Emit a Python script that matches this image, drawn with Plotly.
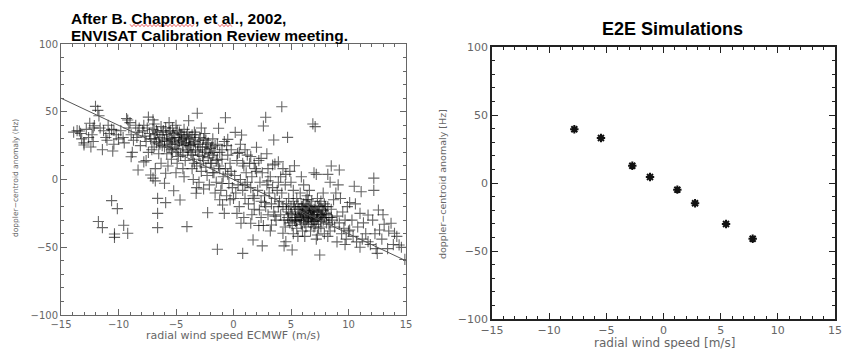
import plotly.graph_objects as go

# ---------------- data ----------------
# Left panel: (radial wind speed ECMWF [m/s], doppler-centroid anomaly [Hz])
chapron_points = [
    (-13.9,35),(-13.6,36),(-13.3,34),(-13.0,27),(-12.8,37),(-12.6,31),(-12.4,24),(-12.2,38),(-12.0,54),(-11.8,51),
    (-11.7,47),(-12.3,33),(-13.2,30),(-13.4,35.8),(-12.5,41.5),(-13.0,25.5),(-12.1,39.7),(-12.2,28),
    (-11.6,38),(-11.3,36),(-11.0,29),(-10.8,34),(-10.6,37),(-10.4,26),(-10.2,33),(-11.4,22),(-10.0,30),
    (-11.75,-31),(-11.4,-35.5),(-10.6,-15.6),(-10.1,-21.5),(-10.35,-40.2),(-10.35,-42.7),(-11.1,31),(-10.9,40),
    (-10.5,21),(-10.4,36.5),
    (-9.8,36),(-9.6,31),(-9.5,27),(-9.3,45),(-9.1,38),(-8.9,33),(-8.7,29),(-8.5,40),(-8.3,35),(-8.1,25),
    (-9.55,-33.8),(-9.2,-39.7),(-8.8,20),(-9.0,42),(-8.4,31),(-8.2,38),(-9.2,43.9),(-8.9,16.8),(-8.3,7),
    (-7.9,36),(-7.8,40),(-7.7,32),(-7.6,28),(-7.5,38),(-7.4,46),(-7.3,34),(-7.2,30),(-7.1,22),(-7.0,37),
    (-6.9,41),(-6.8,33),(-6.7,27),(-6.6,35),(-6.5,19),(-6.4,31),(-6.3,39),(-6.2,25),(-6.1,36),(-6.0,29),
    (-7.6,14),(-6.8,8),(-6.6,-13.9),(-6.6,-25),(-6.6,-35.5),(-6.0,-2.8),(-7.0,44),(-6.3,12),(-7.4,20),(-6.9,24),
    (-7.2,3.3),(-7.0,1),(-5.9,4.6),(-7.8,13),(-6.8,-1),
    (-5.9,-17.1),(-5.2,-8.3),(-5.9,38),(-5.8,33),(-5.7,28),(-5.6,24),(-5.5,36),(-5.4,30),(-5.3,20),(-5.2,34),
    (-5.1,27),(-5.0,40),(-4.9,22),(-4.8,31),(-4.7,35),(-4.6,18),(-4.5,29),(-4.4,25),(-4.3,37),(-4.2,14),
    (-4.1,32),(-4.0,21),(-5.7,10),(-5.4,15),(-5.0,5),(-4.65,-15.1),(-4.05,-34.8),(-4.4,8),(-5.6,42),(-4.8,26),
    (-5.3,29),(-4.5,33),(-4.2,27),(-5.8,19),(-4.9,12),(-4.3,2),
    (-3.9,43.4),(-3.15,48.9),(-3.9,30),(-3.8,25),(-3.7,20),(-3.6,33),(-3.5,15),(-3.4,28),(-3.3,22),(-3.25,-10.2),
    (-3.2,10),(-3.1,26),(-3.0,18),(-2.9,31),(-2.8,6),(-2.7,24),(-2.6,14),(-2.5,20),(-2.4,29),(-2.3,3),
    (-2.25,-24.5),(-2.2,16),(-2.1,-4),(-2.0,23),(-3.6,8),(-3.0,-2),(-2.6,-7),(-3.4,35),(-2.9,12),(-2.4,9),
    (-3.7,27),(-2.2,27),(-3.2,-6),(-2.8,38),(-3.5,0),
    (-1.9,12),(-1.8,18),(-1.7,5),(-1.6,25),(-1.5,-2),(-1.4,-51.5),(-1.3,37.8),(-1.3,10),(-1.2,20),(-1.1,-8),
    (-1.0,15),(-0.95,-18.8),(-0.9,2),(-0.8,-25),(-0.8,28),(-0.7,45.6),(-0.7,8),(-0.6,-12),(-0.5,18),(-0.4,-3),
    (-0.3,12),(-0.2,22),(-0.1,-6),(-1.6,-10),(-1.2,-15),(-0.5,4),(-1.8,30),(-1.0,-3),(-0.3,-15),(-0.6,25),
    (-1.4,15),(-0.2,6),(-0.5,29.6),
    (0.1,3),(0.2,-10),(0.3,14),(0.4,-4),(0.5,-20),(0.5,20),(0.6,0),(0.65,-32.3),(0.7,32.8),(0.8,-54.5),
    (0.8,-8),(0.9,10),(1.0,-14),(1.1,5),(1.2,-2),(1.3,-18),(1.4,12),(1.5,-32.3),(1.5,-6),(1.6,2),
    (1.7,-44.6),(1.7,-12),(1.8,-13.9),(1.9,8),(2.0,23.8),(0.3,-25),(1.2,18),(0.9,-28),(1.8,-22),(0.0,-14),
    (1.0,-4),(1.6,-26),(0.15,34.8),(0.35,19.3),(1.0,22),(1.5,17),(1.8,12),(0.6,26),(2.0,6),(0.8,12),
    (2.1,-8),(2.2,-34),(2.25,-22.5),(2.3,-2),(2.4,-16),(2.5,-49),(2.5,5),(2.6,-34),(2.6,39.5),(2.7,-12),
    (2.8,45.9),(2.8,-20),(2.9,-4),(3.0,-26),(3.1,-10),(3.2,2),(3.3,-33.6),(3.3,-18),(3.4,-6),(3.5,29.2),
    (3.5,-24),(3.6,11.4),(3.6,-14),(3.7,-30),(3.8,-8),(3.9,-20),(2.4,-28),(3.0,8),(3.2,-38),(3.9,-2),
    (2.7,-17),(3.6,-27),(2.2,14),(2.4,15.6),(3.4,10.7),(2.9,19),(3.9,13),(3.0,-1),
    (4.0,-16),(4.1,-26),(4.2,53.7),(4.2,-10),(4.3,-39.7),(4.3,-20),(4.4,-49),(4.4,-30),(4.5,-4),(4.55,-45.9),
    (4.6,-22),(4.7,31.1),(4.7,-28),(4.8,-14),(4.9,-32),(5.0,-20),(5.1,-52),(5.1,-26),(5.2,-8),(5.3,10.2),
    (5.3,-30),(5.4,-22),(5.5,-36),(5.6,-18),(5.7,-28),(5.8,-24),(5.9,-33),(5.5,-14),(5.2,-40),(4.5,-35),
    (5.0,-2),(5.8,-10),(5.6,-42),(4.8,-24),(5.4,-28),(5.9,-20),(4.1,2),(4.55,3.8),(4.3,8),(4.9,6),(5.9,2),
    (6.0,-25),(6.1,-30),(6.1,-18),(6.2,-22),(6.3,-35),(6.3,-27),(6.4,-12),(6.5,-24),(6.5,-31),(6.6,-20),
    (6.7,-28),(6.7,-38),(6.8,-16),(6.9,41),(6.9,-26),(7.0,-22),(7.0,5),(7.1,39),(7.1,-33),(7.2,-24),
    (7.3,-29),(7.3,-14),(7.4,-20),(7.5,-55.7),(7.5,-27),(7.6,-35),(7.7,-22),(7.8,-30),(7.9,-18),(7.9,-40),
    (6.2,-42),(6.6,-8),(7.2,-44),(6.4,-29),(6.8,-33),(7.6,-26),(6.0,-38),(7.0,-30),(7.4,-36),(6.5,-15),
    (7.8,-10),(6.9,-23),(7.3,-41),(6.1,-4),(7.2,3.8),
    (8.0,-25),(8.1,-32),(8.2,-20),(8.3,-28),(8.4,-38),(8.5,10),(8.5,-22),(8.6,-30),(8.7,-15),(8.8,-35),
    (8.9,-10),(9.0,-27),(9.1,-4),(9.2,7),(9.2,-32),(9.3,-14),(9.4,-40),(9.5,-24),(9.6,-36),(9.7,-30),
    (9.8,-44),(9.9,-20),(10.0,-38),(8.4,-2),(9.0,-46),(8.2,-42),(9.7,-48),(8.2,3.8),
    (10.1,-17),(10.1,-37.3),(10.3,-30),(10.4,-42),(10.6,-18),(10.7,-46),(10.8,-35),(11.0,-25),(11.1,-9),(11.2,-44),
    (11.5,-40),(11.7,-26.2),(11.7,-45.9),(11.9,-48),(11.3,-32),(10.5,-5),(11.0,-50),
    (12.1,-30),(12.4,-51),(12.5,-54.5),(12.6,-22.5),(12.7,-37.3),(12.9,-44),(13.1,-33),(13.4,-51),(13.7,-32.3),(13.9,-48),
    (14.0,-39.7),(14.2,-42),(14.4,-48.3),(14.9,-59),(12.2,-8),(13.0,-26),(13.5,-38),(14.6,-50),(12.3,-40),(12.2,1),
    # dense core around x=-7..-1
    (-6.9,30),(-6.7,36),(-6.5,28),(-6.2,33),(-6.0,24),(-5.8,30),(-5.6,35),(-5.5,26),(-5.3,38),(-5.1,31),
    (-5.0,23),(-4.9,36),(-4.7,28),(-4.6,33),(-4.4,20),(-4.3,30),(-4.1,26),(-4.0,35),(-3.9,22),(-3.8,31),
    (-3.6,18),(-3.5,26),(-3.3,33),(-3.1,21),(-3.0,29),(-2.9,24),(-2.7,17),(-2.6,30),(-2.4,22),(-2.3,26),
    (-2.1,19),(-2.0,12),(-1.9,24),(-1.7,20),(-1.5,14),(-1.4,26),(-1.2,8),(-1.0,22),(-5.4,22),(-6.4,26),
    (-4.8,17),(-3.4,12),(-2.5,34),(-1.8,5),
    # dense core around x=5..8
    (4.6,-18),(4.8,-30),(5.0,-25),(5.1,-34),(5.3,-20),(5.4,-31),(5.6,-26),(5.7,-22),(5.8,-30),(5.9,-27),
    (6.0,-20),(6.1,-26),(6.2,-32),(6.3,-23),(6.4,-19),(6.5,-28),(6.6,-25),(6.7,-21),(6.8,-29),(6.9,-31),
    (7.0,-26),(7.1,-20),(7.2,-30),(7.3,-24),(7.4,-28),(7.5,-19),(7.6,-31),(7.7,-26),(7.8,-23),(7.9,-28),
    (8.0,-20),(8.1,-26),(8.3,-33),(8.5,-28),(6.3,-15),(7.0,-35),(5.5,-30),(6.8,-24),(7.6,-16),(5.2,-16),
]
chapron_wind = [p[0] for p in chapron_points]
chapron_anomaly = [p[1] for p in chapron_points]

# regression line end points
fit_wind = [-15, 15]
fit_anomaly = [60, -60]

# Right panel: E2E simulations
e2e_wind = [-7.8, -5.47, -2.73, -1.18, 1.21, 2.76, 5.47, 7.8]
e2e_anomaly = [39.5, 33.1, 12.7, 4.4, -4.9, -14.9, -30.1, -41.0]

x_ticks = [-15, -10, -5, 0, 5, 10, 15]
y_ticks = [-100, -50, 0, 50, 100]

W, H = 842, 349

# ---------------- figure ----------------
fig = go.Figure()

fig.add_trace(go.Scatter(
    x=chapron_wind, y=chapron_anomaly, mode="markers",
    marker=dict(symbol="cross-thin-open", size=8, color="rgba(0,0,0,0.6)",
                line=dict(width=1.1, color="rgba(0,0,0,0.6)")),
    xaxis="x", yaxis="y", showlegend=False, hoverinfo="skip"))

fig.add_trace(go.Scatter(
    x=fit_wind, y=fit_anomaly, mode="lines",
    line=dict(color="#555555", width=1),
    xaxis="x", yaxis="y", showlegend=False, hoverinfo="skip"))

fig.add_trace(go.Scatter(
    x=e2e_wind, y=e2e_anomaly, mode="markers",
    marker=dict(symbol="asterisk-open", size=7, color="#111111",
                line=dict(width=2, color="#111111")),
    xaxis="x2", yaxis="y2", showlegend=False, hoverinfo="skip"))


def xaxis_style(domain, anchor, linecolor, lw, fsize):
    return dict(
        domain=domain, anchor=anchor, range=[-15, 15], tickvals=x_ticks,
        ticks="inside", ticklen=6, tickwidth=1, tickcolor=linecolor,
        minor=dict(dtick=1, tick0=0, ticks="inside", ticklen=3, tickwidth=1, tickcolor=linecolor),
        showline=True, linecolor=linecolor, linewidth=lw, mirror="ticks",
        showgrid=False, zeroline=False, automargin=False, ticklabeloverflow="allow",
        tickfont=dict(family="DejaVu Sans", size=fsize, color="#666666"),
    )


def yaxis_style(domain, anchor, linecolor, lw, fsize):
    return dict(
        domain=domain, anchor=anchor, range=[-100, 100], tickvals=y_ticks,
        ticks="inside", ticklen=6, tickwidth=1, tickcolor=linecolor,
        minor=dict(dtick=10, tick0=0, ticks="inside", ticklen=3, tickwidth=1, tickcolor=linecolor),
        showline=True, linecolor=linecolor, linewidth=lw, mirror="ticks",
        showgrid=False, zeroline=False, automargin=False, ticklabeloverflow="allow",
        tickfont=dict(family="DejaVu Sans", size=fsize, color="#666666"),
    )


fig.update_layout(
    width=W, height=H,
    margin=dict(l=0, r=0, t=0, b=0, pad=0),
    paper_bgcolor="white", plot_bgcolor="white",
    xaxis=xaxis_style([61 / W, 406 / W], "y", "#666666", 1, 10),
    yaxis=yaxis_style([1 - 315 / H, 1 - 44 / H], "x", "#666666", 1, 10),
    xaxis2=xaxis_style([492 / W, 835 / W], "y2", "#222222", 1.5, 11),
    yaxis2=yaxis_style([1 - 319 / H, 1 - 47 / H], "x2", "#222222", 1.5, 11),
)

title_font = dict(family="Liberation Sans", size=15.5, color="#000000")

annotations = [
    dict(text="<b>After B. Chapron, et al., 2002,</b>", x=69 / W, y=1 - 18 / H,
         xanchor="left", yanchor="middle", font=title_font),
    dict(text="<b>ENVISAT Calibration Review meeting.</b>", x=69 / W, y=1 - 35 / H,
         xanchor="left", yanchor="middle", font=title_font),
    dict(text="<b>E2E Simulations</b>", x=672 / W, y=1 - 29 / H,
         xanchor="center", yanchor="middle", font=dict(family="Liberation Sans", size=18, color="#000")),
    dict(text="radial wind speed ECMWF (m/s)", x=233 / W, y=1 - 335 / H,
         xanchor="center", yanchor="middle", font=dict(family="DejaVu Sans", size=11, color="#666666")),
    dict(text="doppler−centroid anomaly (Hz)", x=15 / W, y=1 - 178 / H, textangle=-90,
         xanchor="center", yanchor="middle", font=dict(family="DejaVu Sans", size=7.5, color="#666666")),
    dict(text="radial wind speed [m/s]", x=664 / W, y=1 - 343 / H,
         xanchor="center", yanchor="middle", font=dict(family="DejaVu Sans", size=12, color="#666666")),
    dict(text="doppler−centroid anomaly [Hz]", x=443 / W, y=1 - 184 / H, textangle=-90,
         xanchor="center", yanchor="middle", font=dict(family="DejaVu Sans", size=9.5, color="#666666")),
]
for a in annotations:
    a.update(xref="paper", yref="paper", showarrow=False)


# red spell-check squiggles under "Chapron" and "al."
def squiggle(x0, x1, y):
    pts = []
    step = 2.0
    n = int((x1 - x0) / step)
    for i in range(n + 1):
        px = x0 + i * step
        py = y + (1.2 if i % 2 else -1.2)
        pts.append(f"{px / W:.5f},{1 - py / H:.5f}")
    return "M " + " L ".join(pts)


shapes = [
    dict(type="path", path=squiggle(130, 194, 25.5), xref="paper", yref="paper",
         line=dict(color="rgba(230,60,60,0.8)", width=1)),
    dict(type="path", path=squiggle(218, 233, 25.5), xref="paper", yref="paper",
         line=dict(color="rgba(230,60,60,0.8)", width=1)),
]

fig.update_layout(annotations=annotations, shapes=shapes)

fig.write_html("out.html")
